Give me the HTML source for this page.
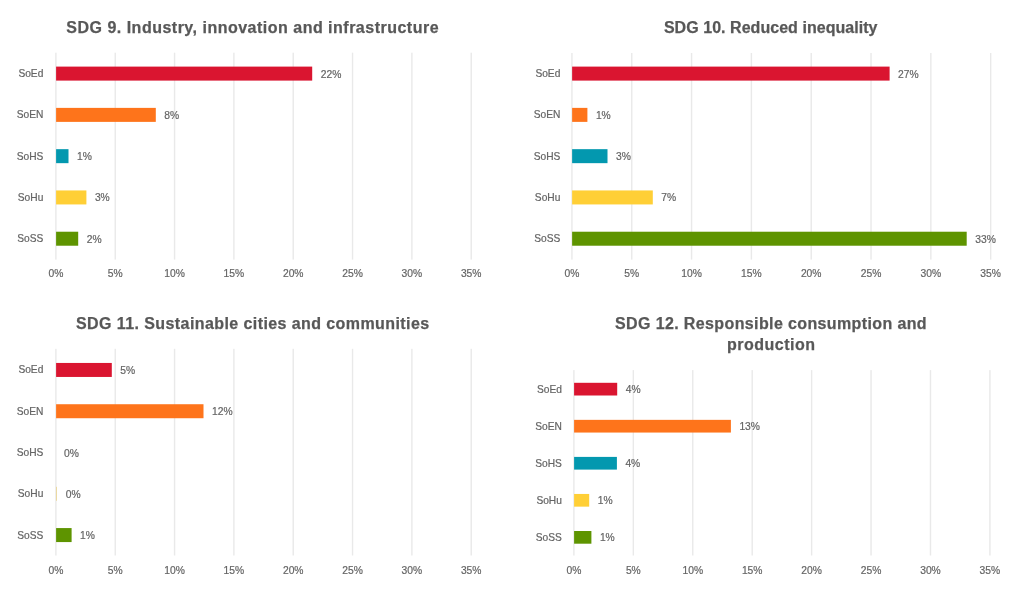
<!DOCTYPE html>
<html><head><meta charset="utf-8"><style>
html,body{margin:0;padding:0;background:#fff;width:1025px;height:595px;overflow:hidden}
body{position:relative;font-family:"Liberation Sans",sans-serif}
#wrap{position:absolute;left:0;top:0;width:1025px;height:595px;filter:blur(0.4px)}
svg{position:absolute;left:0;top:0}
.ax,.cat,.dl{-webkit-text-stroke:0.2px #646464}
.ax{position:absolute;width:60px;text-align:center;font-size:10.3px;line-height:12.36px;color:#646464;white-space:nowrap}
.cat{position:absolute;text-align:right;font-size:10.2px;line-height:12.24px;color:#646464;white-space:nowrap}
.dl{position:absolute;font-size:10.3px;line-height:12.36px;color:#646464;white-space:nowrap}
.t{position:absolute;font-weight:bold;font-size:16px;line-height:30px;color:#585858;white-space:nowrap;-webkit-text-stroke:0.25px #585858}
</style></head><body><div id="wrap">
<svg width="1025" height="595" viewBox="0 0 1025 595" shape-rendering="geometricPrecision">
<rect x="55.20" y="52.70" width="1.4" height="206.90" fill="#E9E9E9"/>
<rect x="114.53" y="52.70" width="1.4" height="206.90" fill="#E9E9E9"/>
<rect x="173.86" y="52.70" width="1.4" height="206.90" fill="#E9E9E9"/>
<rect x="233.19" y="52.70" width="1.4" height="206.90" fill="#E9E9E9"/>
<rect x="292.52" y="52.70" width="1.4" height="206.90" fill="#E9E9E9"/>
<rect x="351.85" y="52.70" width="1.4" height="206.90" fill="#E9E9E9"/>
<rect x="411.18" y="52.70" width="1.4" height="206.90" fill="#E9E9E9"/>
<rect x="470.51" y="52.70" width="1.4" height="206.90" fill="#E9E9E9"/>
<rect x="56.10" y="66.60" width="256.10" height="14.00" fill="#DA1530"/>
<rect x="56.10" y="107.88" width="99.70" height="14.00" fill="#FE741B"/>
<rect x="56.10" y="149.16" width="12.40" height="14.00" fill="#0398AF"/>
<rect x="56.10" y="190.44" width="30.30" height="14.00" fill="#FFCF36"/>
<rect x="56.10" y="231.72" width="22.10" height="14.00" fill="#5E9400"/>
<rect x="571.23" y="53.00" width="1.4" height="206.60" fill="#E9E9E9"/>
<rect x="631.05" y="53.00" width="1.4" height="206.60" fill="#E9E9E9"/>
<rect x="690.87" y="53.00" width="1.4" height="206.60" fill="#E9E9E9"/>
<rect x="750.69" y="53.00" width="1.4" height="206.60" fill="#E9E9E9"/>
<rect x="810.51" y="53.00" width="1.4" height="206.60" fill="#E9E9E9"/>
<rect x="870.33" y="53.00" width="1.4" height="206.60" fill="#E9E9E9"/>
<rect x="930.15" y="53.00" width="1.4" height="206.60" fill="#E9E9E9"/>
<rect x="989.97" y="53.00" width="1.4" height="206.60" fill="#E9E9E9"/>
<rect x="572.13" y="66.60" width="317.47" height="14.00" fill="#DA1530"/>
<rect x="572.13" y="107.88" width="15.27" height="14.00" fill="#FE741B"/>
<rect x="572.13" y="149.16" width="35.37" height="14.00" fill="#0398AF"/>
<rect x="572.13" y="190.44" width="80.67" height="14.00" fill="#FFCF36"/>
<rect x="572.13" y="231.72" width="394.57" height="14.00" fill="#5E9400"/>
<rect x="55.20" y="348.80" width="1.4" height="206.70" fill="#E9E9E9"/>
<rect x="114.53" y="348.80" width="1.4" height="206.70" fill="#E9E9E9"/>
<rect x="173.86" y="348.80" width="1.4" height="206.70" fill="#E9E9E9"/>
<rect x="233.19" y="348.80" width="1.4" height="206.70" fill="#E9E9E9"/>
<rect x="292.52" y="348.80" width="1.4" height="206.70" fill="#E9E9E9"/>
<rect x="351.85" y="348.80" width="1.4" height="206.70" fill="#E9E9E9"/>
<rect x="411.18" y="348.80" width="1.4" height="206.70" fill="#E9E9E9"/>
<rect x="470.51" y="348.80" width="1.4" height="206.70" fill="#E9E9E9"/>
<rect x="56.10" y="362.95" width="55.70" height="14.00" fill="#DA1530"/>
<rect x="56.10" y="404.23" width="147.40" height="14.00" fill="#FE741B"/>
<rect x="56.10" y="486.79" width="0.70" height="14.00" fill="#E9CF80"/>
<rect x="56.10" y="528.07" width="15.50" height="14.00" fill="#5E9400"/>
<rect x="573.20" y="370.10" width="1.4" height="185.40" fill="#E9E9E9"/>
<rect x="632.63" y="370.10" width="1.4" height="185.40" fill="#E9E9E9"/>
<rect x="692.06" y="370.10" width="1.4" height="185.40" fill="#E9E9E9"/>
<rect x="751.49" y="370.10" width="1.4" height="185.40" fill="#E9E9E9"/>
<rect x="810.92" y="370.10" width="1.4" height="185.40" fill="#E9E9E9"/>
<rect x="870.35" y="370.10" width="1.4" height="185.40" fill="#E9E9E9"/>
<rect x="929.78" y="370.10" width="1.4" height="185.40" fill="#E9E9E9"/>
<rect x="989.21" y="370.10" width="1.4" height="185.40" fill="#E9E9E9"/>
<rect x="574.10" y="382.80" width="43.10" height="12.70" fill="#DA1530"/>
<rect x="574.10" y="419.85" width="156.80" height="12.70" fill="#FE741B"/>
<rect x="574.10" y="456.90" width="42.80" height="12.70" fill="#0398AF"/>
<rect x="574.10" y="493.95" width="15.10" height="12.70" fill="#FFCF36"/>
<rect x="574.10" y="531.00" width="17.30" height="12.70" fill="#5E9400"/>
</svg>
<div class="t" style="left:66.30px;top:13.00px;letter-spacing:0.496px">SDG 9. Industry, innovation and infrastructure</div>
<div class="t" style="left:663.90px;top:13.00px;letter-spacing:0.044px">SDG 10. Reduced inequality</div>
<div class="t" style="left:76.00px;top:309.00px;letter-spacing:0.415px">SDG 11. Sustainable cities and communities</div>
<div class="t" style="left:615.00px;top:309.00px;letter-spacing:0.380px">SDG 12. Responsible consumption and</div>
<div class="t" style="left:727.00px;top:330.00px;letter-spacing:0.510px">production</div>
<div class="ax" style="left:25.90px;top:268px">0%</div>
<div class="ax" style="left:85.23px;top:268px">5%</div>
<div class="ax" style="left:144.56px;top:268px">10%</div>
<div class="ax" style="left:203.89px;top:268px">15%</div>
<div class="ax" style="left:263.22px;top:268px">20%</div>
<div class="ax" style="left:322.55px;top:268px">25%</div>
<div class="ax" style="left:381.88px;top:268px">30%</div>
<div class="ax" style="left:441.21px;top:268px">35%</div>
<div class="cat" style="left:0px;width:43.30px;top:68px">SoEd</div>
<div class="dl" style="left:320.70px;top:69px">22%</div>
<div class="cat" style="left:0px;width:43.30px;top:109px">SoEN</div>
<div class="dl" style="left:164.30px;top:110px">8%</div>
<div class="cat" style="left:0px;width:43.30px;top:151px">SoHS</div>
<div class="dl" style="left:77.00px;top:151px">1%</div>
<div class="cat" style="left:0px;width:43.30px;top:192px">SoHu</div>
<div class="dl" style="left:94.90px;top:192px">3%</div>
<div class="cat" style="left:0px;width:43.30px;top:233px">SoSS</div>
<div class="dl" style="left:86.70px;top:234px">2%</div>
<div class="ax" style="left:541.93px;top:268px">0%</div>
<div class="ax" style="left:601.75px;top:268px">5%</div>
<div class="ax" style="left:661.57px;top:268px">10%</div>
<div class="ax" style="left:721.39px;top:268px">15%</div>
<div class="ax" style="left:781.21px;top:268px">20%</div>
<div class="ax" style="left:841.03px;top:268px">25%</div>
<div class="ax" style="left:900.85px;top:268px">30%</div>
<div class="ax" style="left:960.67px;top:268px">35%</div>
<div class="cat" style="left:0px;width:560.33px;top:68px">SoEd</div>
<div class="dl" style="left:898.10px;top:69px">27%</div>
<div class="cat" style="left:0px;width:560.33px;top:109px">SoEN</div>
<div class="dl" style="left:595.90px;top:110px">1%</div>
<div class="cat" style="left:0px;width:560.33px;top:151px">SoHS</div>
<div class="dl" style="left:616.00px;top:151px">3%</div>
<div class="cat" style="left:0px;width:560.33px;top:192px">SoHu</div>
<div class="dl" style="left:661.30px;top:192px">7%</div>
<div class="cat" style="left:0px;width:560.33px;top:233px">SoSS</div>
<div class="dl" style="left:975.20px;top:234px">33%</div>
<div class="ax" style="left:25.90px;top:565px">0%</div>
<div class="ax" style="left:85.23px;top:565px">5%</div>
<div class="ax" style="left:144.56px;top:565px">10%</div>
<div class="ax" style="left:203.89px;top:565px">15%</div>
<div class="ax" style="left:263.22px;top:565px">20%</div>
<div class="ax" style="left:322.55px;top:565px">25%</div>
<div class="ax" style="left:381.88px;top:565px">30%</div>
<div class="ax" style="left:441.21px;top:565px">35%</div>
<div class="cat" style="left:0px;width:43.30px;top:364px">SoEd</div>
<div class="dl" style="left:120.30px;top:365px">5%</div>
<div class="cat" style="left:0px;width:43.30px;top:406px">SoEN</div>
<div class="dl" style="left:212.00px;top:406px">12%</div>
<div class="cat" style="left:0px;width:43.30px;top:447px">SoHS</div>
<div class="dl" style="left:64.10px;top:448px">0%</div>
<div class="cat" style="left:0px;width:43.30px;top:488px">SoHu</div>
<div class="dl" style="left:65.70px;top:489px">0%</div>
<div class="cat" style="left:0px;width:43.30px;top:530px">SoSS</div>
<div class="dl" style="left:80.10px;top:530px">1%</div>
<div class="ax" style="left:543.90px;top:565px">0%</div>
<div class="ax" style="left:603.33px;top:565px">5%</div>
<div class="ax" style="left:662.76px;top:565px">10%</div>
<div class="ax" style="left:722.19px;top:565px">15%</div>
<div class="ax" style="left:781.62px;top:565px">20%</div>
<div class="ax" style="left:841.05px;top:565px">25%</div>
<div class="ax" style="left:900.48px;top:565px">30%</div>
<div class="ax" style="left:959.91px;top:565px">35%</div>
<div class="cat" style="left:0px;width:561.90px;top:384px">SoEd</div>
<div class="dl" style="left:625.70px;top:384px">4%</div>
<div class="cat" style="left:0px;width:561.90px;top:421px">SoEN</div>
<div class="dl" style="left:739.40px;top:421px">13%</div>
<div class="cat" style="left:0px;width:561.90px;top:458px">SoHS</div>
<div class="dl" style="left:625.40px;top:458px">4%</div>
<div class="cat" style="left:0px;width:561.90px;top:495px">SoHu</div>
<div class="dl" style="left:597.70px;top:495px">1%</div>
<div class="cat" style="left:0px;width:561.90px;top:532px">SoSS</div>
<div class="dl" style="left:599.90px;top:532px">1%</div>
</div></body></html>
